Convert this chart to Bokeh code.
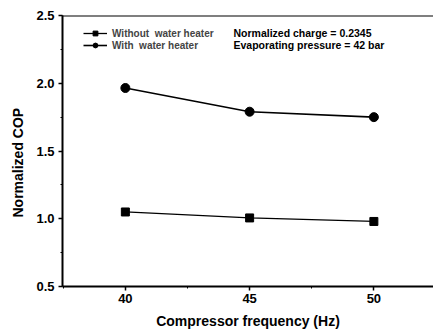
from bokeh.plotting import figure
from bokeh.models import Range1d, SingleIntervalTicker, Legend, LegendItem, Span, Label, PrintfTickFormatter, Title
from bokeh.embed import file_html
from bokeh.resources import INLINE

freq = [40, 45, 50]
cop_without = [1.05, 1.006, 0.98]
cop_with = [1.965, 1.79, 1.75]
series_labels = ["Without  water heater", "With  water heater"]
notes = ["Normalized charge = 0.2345", "Evaporating pressure = 42 bar"]
x_title = "Compressor frequency (Hz)"
y_title = "Normalized COP"

FONT = "Liberation Sans"

p = figure(width=433, height=332, output_backend="svg", toolbar_location=None,
           x_range=Range1d(37.47, 52.4), y_range=Range1d(0.5, 2.5),
           min_border_left=62, min_border_right=0, min_border_top=15, min_border_bottom=46)
p.outline_line_color = None
p.grid.visible = False
p.background_fill_color = "white"
p.border_fill_color = "white"

p.xaxis.ticker = SingleIntervalTicker(interval=5, num_minor_ticks=2)
p.yaxis.ticker = SingleIntervalTicker(interval=0.5, num_minor_ticks=2)
p.yaxis.formatter = PrintfTickFormatter(format="%.1f")

for ax in (p.xaxis, p.yaxis):
    ax.axis_line_width = 2
    ax.axis_line_color = "black"
    ax.major_tick_line_width = 1.5
    ax.minor_tick_line_width = 1
    ax.major_tick_out = 4
    ax.major_tick_in = 0
    ax.minor_tick_out = 2
    ax.minor_tick_in = 0
    ax.major_label_text_font = FONT
    ax.major_label_text_font_style = "bold"
    ax.major_label_text_font_size = "13px"
    ax.major_label_text_color = "black"
    ax.axis_label_text_font = FONT
    ax.axis_label_text_font_style = "bold"
    ax.axis_label_text_font_size = "14px"
    ax.axis_label_text_color = "black"

p.xaxis.axis_label = x_title
p.xaxis.major_label_standoff = 3
p.xaxis.axis_label_standoff = 7
p.yaxis.major_label_standoff = 4

p.add_layout(Title(text=y_title, align="left", offset=69, standoff=15, text_font=FONT,
                   text_font_style="bold", text_font_size="14px", text_color="black"), "left")

p.add_layout(Span(location=2.5, dimension="width", line_color="black", line_width=2))

l1 = p.line(freq, cop_without, line_color="black", line_width=1.3)
s1 = p.scatter(freq, cop_without, marker="square", size=8, fill_color="black", line_color="black")
l2 = p.line(freq, cop_with, line_color="black", line_width=1.6)
s2 = p.scatter(freq, cop_with, marker="circle", size=9, fill_color="black", line_color="black")

legend = Legend(items=[LegendItem(label=series_labels[0], renderers=[l1, s1]),
                       LegendItem(label=series_labels[1], renderers=[l2, s2])],
                location=(21, 235), margin=0, padding=0, spacing=0,
                glyph_width=24, glyph_height=12, label_height=12, label_standoff=5,
                label_text_font=FONT, label_text_font_style="bold", label_text_font_size="10px",
                border_line_color=None, background_fill_alpha=0)
p.add_layout(legend)

for i, t in enumerate(notes):
    p.add_layout(Label(x=44.35, y=2.37 - i * 0.09, text=t, text_font=FONT, text_font_style="bold",
                       text_font_size="10.5px", text_baseline="middle", text_color="black"))

open("out.html", "w").write(file_html(p, INLINE))
